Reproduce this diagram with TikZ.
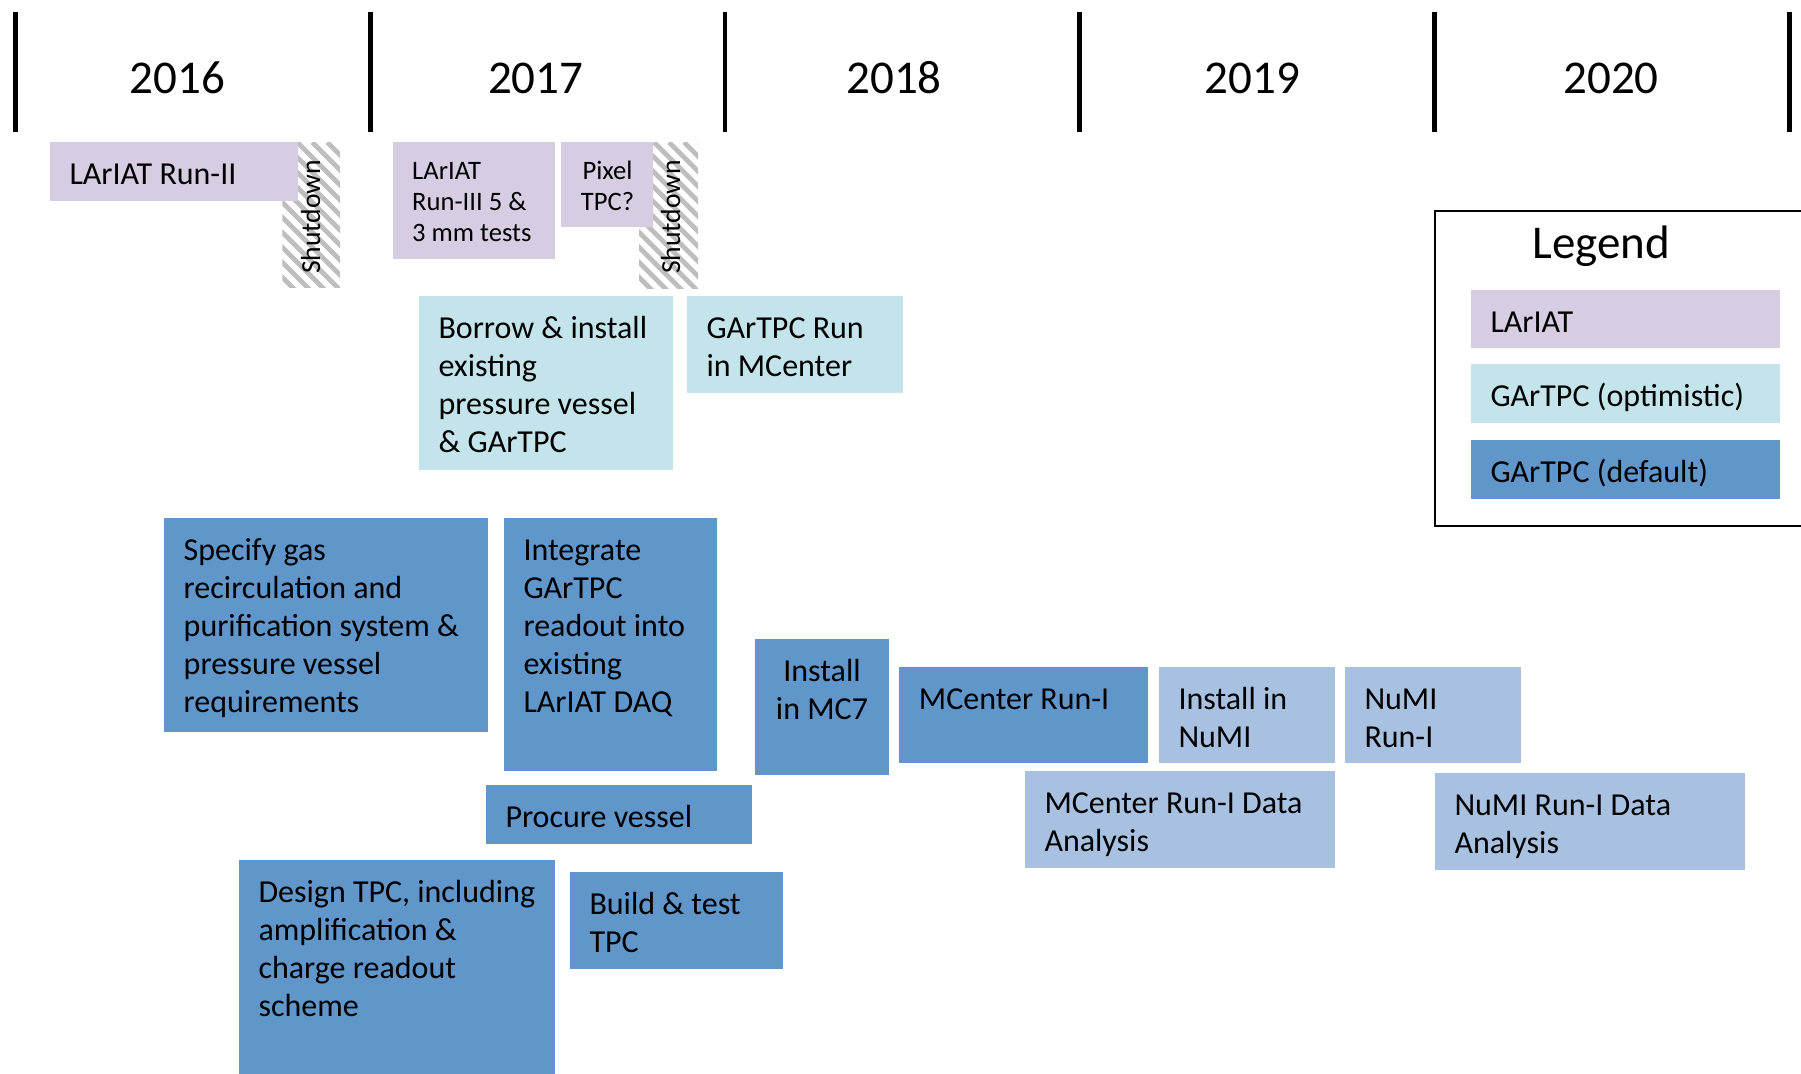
\documentclass[tikz,border=0pt]{standalone}
\usepackage{fontspec}
\setmainfont{Carlito}
\usetikzlibrary{fit}
\definecolor{lav}{RGB}{214,205,226}
\definecolor{cyanl}{RGB}{196,228,236}
\definecolor{bluem}{RGB}{96,150,201}
\definecolor{bluel}{RGB}{168,193,224}
\definecolor{hatchgray}{RGB}{190,190,190}
\tikzset{
  box/.style={inner sep=0pt, outer sep=0pt, draw=none},
  bigtxt/.style={inner sep=0pt, outer sep=0pt, align=left, font=\fontsize{16pt}{19pt}\selectfont},
  smalltxt/.style={inner sep=0pt, outer sep=0pt, font=\fontsize{13.3pt}{15.5pt}\selectfont},
  yeartxt/.style={inner sep=0pt, font=\fontsize{23.5pt}{28pt}\selectfont},
  yearline/.style={line width=2.3pt, black},
  hatchline/.style={line width=2.4pt, hatchgray},
  shuttxt/.style={inner sep=0pt, rotate=90, anchor=base, font=\fontsize{13.8pt}{16pt}\selectfont},
}
\newcommand\taskbox[7]{%
  \node[box, fill=#2, fit={(#3,#4) (#5,#6)}] (#1) {};
  \node[bigtxt, anchor=north west] (#1t) at ([xshift=9.75pt, yshift=-8pt]#1.north west) {\strut #7};
}
\begin{document}
\begin{tikzpicture}[x=0.5pt, y=-0.5pt]
\useasboundingbox (0,0) rectangle (1801,1073);
\clip (0,0) rectangle (1801,1073);

% year separators
\foreach \xx [count=\i] in {15.5,370.3,725,1079.7,1434.5,1789.2}
  \draw[yearline] (\xx,12.3) coordinate (ytop\i) -- (\xx,132.3) coordinate (ybot\i);

\node[yeartxt, anchor=base] (y2016) at (177.5,93) {2016};
\node[yeartxt, anchor=base] (y2017) at (535.8,93) {2017};
\node[yeartxt, anchor=base] (y2018) at (894,93) {2018};
\node[yeartxt, anchor=base] (y2019) at (1252.5,93) {2019};
\node[yeartxt, anchor=base] (y2020) at (1611,93) {2020};

% shutdown hatches
\node[box, fit={(282.4,142.3) (340,287.5)}] (sd1) {};
\node[box, fit={(639,142.3) (698,288.5)}] (sd2) {};
\begin{scope}
  \clip (sd1.north west) rectangle (sd1.south east);
  \foreach \k in {-12,...,6}
    \draw[hatchline] (282.4+\k*15,142.3) -- ++(170,170);
\end{scope}
\begin{scope}
  \clip (sd2.north west) rectangle (sd2.south east);
  \foreach \k in {-12,...,6}
    \draw[hatchline] (639+\k*15,142.3) -- ++(170,170);
\end{scope}
\node[shuttxt] (sd1t) at (320,217) {Shutdown};
\node[shuttxt] (sd2t) at (680,217) {Shutdown};

% LArIAT boxes
\taskbox{b1}{lav}{50}{142.3}{297.5}{200.7}{LArIAT Run-II}
\node[box, fill=lav, fit={(393,142.3) (555,258.7)}] (b2) {};
\node[smalltxt, align=left, anchor=north west] (b2t) at (412.2,157.3) {\strut LArIAT\\Run-III 5 \&\\3 mm tests};
\node[box, fill=lav, fit={(561,142.3) (653.3,226.7)}] (b3) {};
\node[smalltxt, align=center, anchor=north] (b3t) at (607.5,157.3) {\strut Pixel\\TPC?};

% optimistic
\taskbox{b4}{cyanl}{419}{295.5}{672.8}{469.5}{Borrow \& install\\existing\\pressure vessel\\\& GArTPC}
\taskbox{b5}{cyanl}{687}{295.5}{903}{392.5}{GArTPC Run\\in MCenter}

% default
\taskbox{b6}{bluem}{164.2}{518}{488}{731.5}{Specify gas\\recirculation and\\purification system \&\\pressure vessel\\requirements}
\taskbox{b7}{bluem}{504}{518}{717}{770.5}{Integrate\\GArTPC\\readout into\\existing\\LArIAT DAQ}
\node[box, fill=bluem, fit={(755,639) (889,774.5)}] (b8) {};
\node[bigtxt, align=center, anchor=north] (b8t) at (822,655) {\strut Install\\in MC7};
\taskbox{b9}{bluem}{899.4}{667}{1148}{763}{MCenter Run-I}
\taskbox{b10}{bluel}{1159}{667}{1335}{763}{Install in\\NuMI}
\taskbox{b11}{bluel}{1345}{667}{1521}{763}{NuMI\\Run-I}
\taskbox{b12}{bluel}{1025}{771}{1335}{867.5}{MCenter Run-I Data\\Analysis}
\taskbox{b13}{bluel}{1435}{773}{1745}{869.5}{NuMI Run-I Data\\Analysis}
\taskbox{b14}{bluem}{486}{785}{752}{843.7}{Procure vessel}
\taskbox{b15}{bluem}{239}{860}{555}{1085}{Design TPC, including\\amplification \&\\charge readout\\scheme}
\taskbox{b16}{bluem}{570}{872.3}{783}{968.7}{Build \& test\\TPC}

% legend
\node[box, draw=black, line width=1.25pt, fit={(1435,211) (1840,526)}] (legend) {};
\node[yeartxt, anchor=base west] (legendt) at (1532,258) {Legend};
\taskbox{l1}{lav}{1471}{289.5}{1780}{347.5}{LArIAT}
\taskbox{l2}{cyanl}{1471}{364}{1780}{422.5}{GArTPC (optimistic)}
\taskbox{l3}{bluem}{1471}{440}{1780}{498.5}{GArTPC (default)}
\end{tikzpicture}
\end{document}
